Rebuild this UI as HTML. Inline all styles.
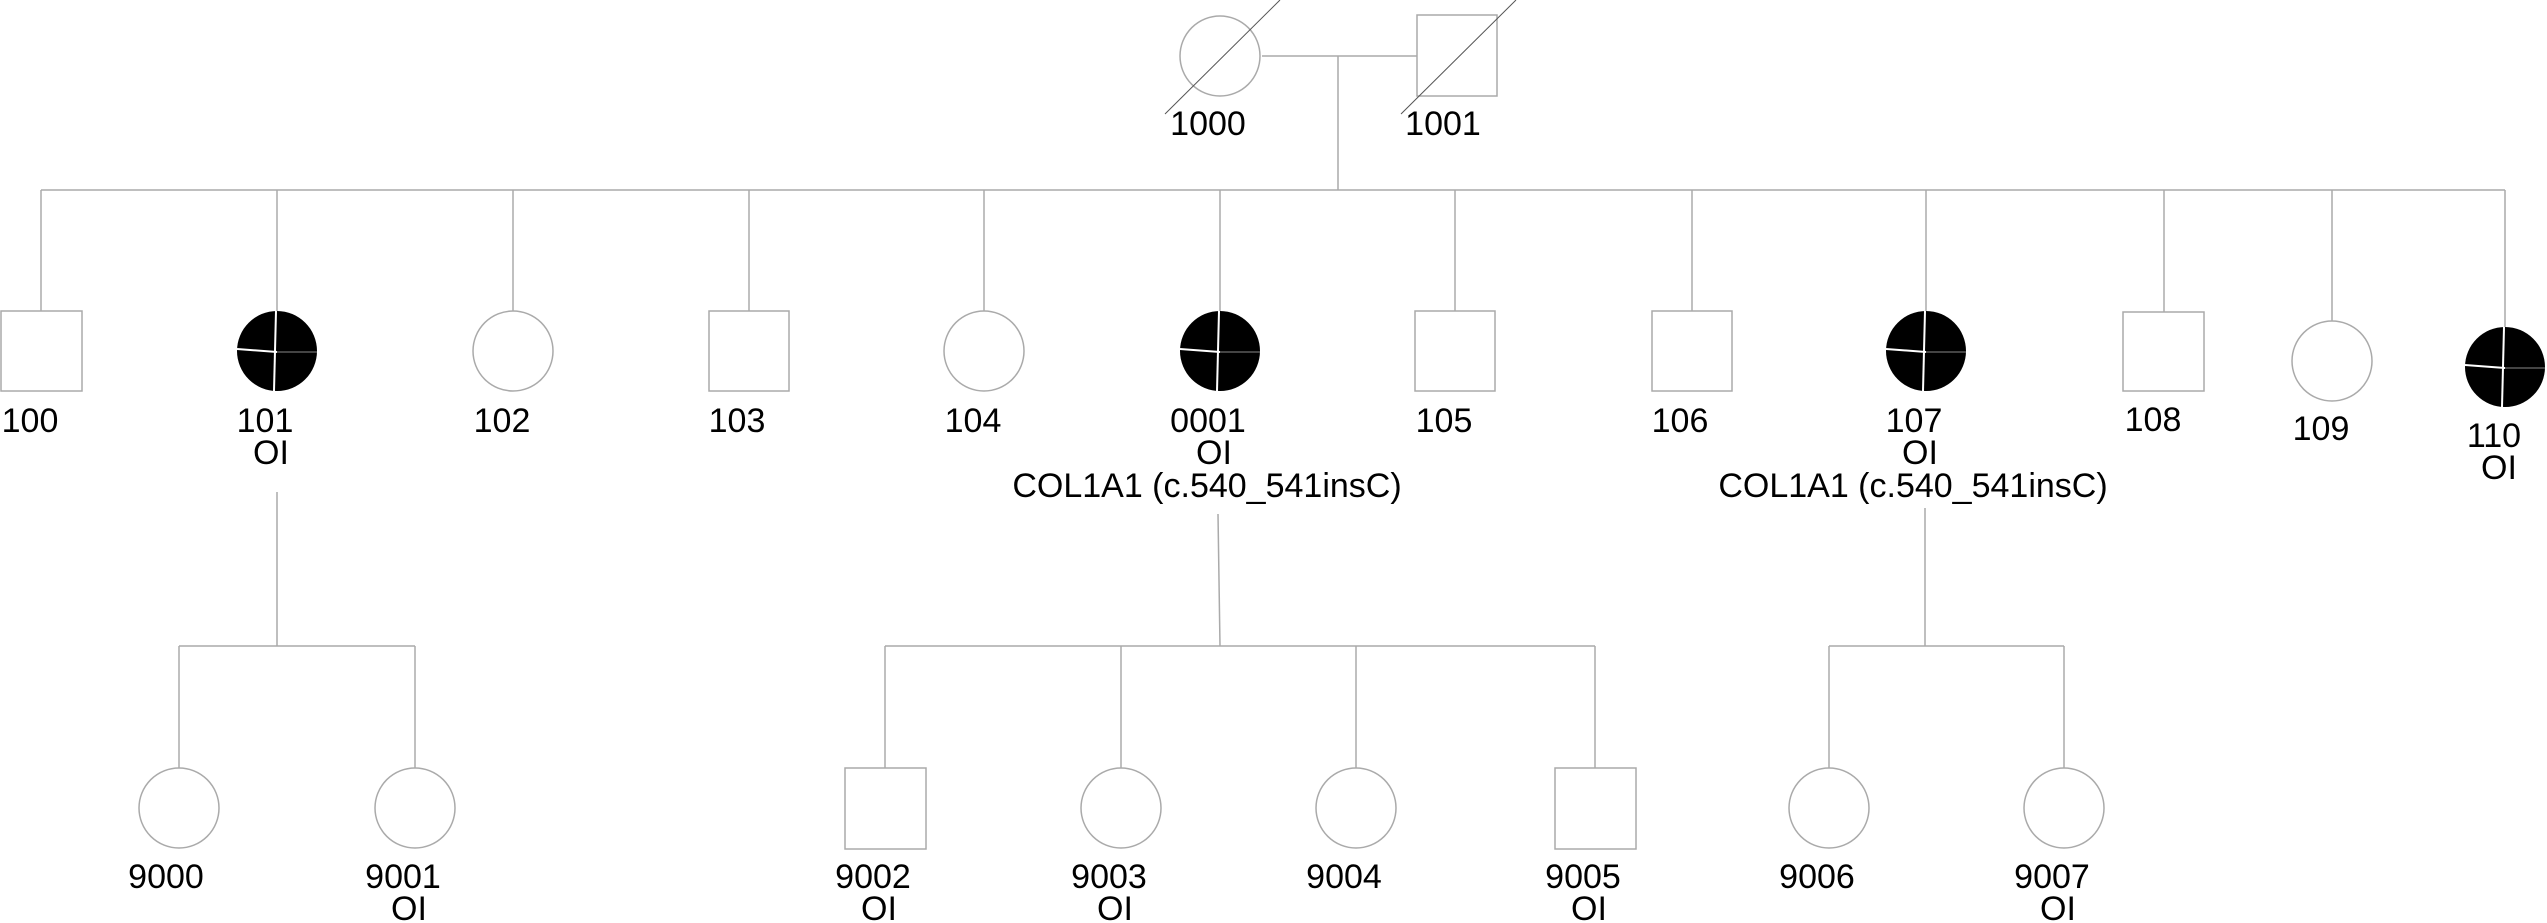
<!DOCTYPE html>
<html><head><meta charset="utf-8"><style>
html,body{margin:0;padding:0;background:#fff;}
svg{display:block;}
text{font-family:"Liberation Sans",Arial,sans-serif;font-size:34px;fill:#000;text-anchor:middle;}
</style></head><body>
<svg width="2547" height="923" viewBox="0 0 2547 923" xmlns="http://www.w3.org/2000/svg">
<defs>
<g id="aff">
<circle cx="0" cy="0" r="40" fill="#000"/>
<line x1="-1" y1="-40" x2="-3" y2="40" stroke="#fff" stroke-width="2"/>
<line x1="-40" y1="-2" x2="0" y2="1" stroke="#fff" stroke-width="2"/>
<line x1="0" y1="1" x2="40" y2="1" stroke="#888" stroke-width="1"/>
</g>
</defs>
<g stroke="#aaa" stroke-width="1.5" fill="none">
<line x1="1262" y1="56" x2="1417" y2="56"/>
<line x1="1338" y1="56" x2="1338" y2="190"/>
<line x1="41" y1="190" x2="2505" y2="190"/>
<line x1="41" y1="190" x2="41" y2="311"/>
<line x1="277" y1="190" x2="277" y2="311"/>
<line x1="513" y1="190" x2="513" y2="311"/>
<line x1="749" y1="190" x2="749" y2="311"/>
<line x1="984" y1="190" x2="984" y2="311"/>
<line x1="1220" y1="190" x2="1220" y2="311"/>
<line x1="1455" y1="190" x2="1455" y2="311"/>
<line x1="1692" y1="190" x2="1692" y2="311"/>
<line x1="1926" y1="190" x2="1926" y2="311"/>
<line x1="2164" y1="190" x2="2164" y2="312"/>
<line x1="2332" y1="190" x2="2332" y2="321"/>
<line x1="2505" y1="190" x2="2505" y2="327"/>
<line x1="277" y1="492" x2="277" y2="646"/>
<line x1="179" y1="646" x2="415" y2="646"/>
<line x1="179" y1="646" x2="179" y2="768"/>
<line x1="415" y1="646" x2="415" y2="768"/>
<line x1="1218" y1="514" x2="1220" y2="646"/>
<line x1="885" y1="646" x2="1595" y2="646"/>
<line x1="885" y1="646" x2="885" y2="768"/>
<line x1="1121" y1="646" x2="1121" y2="768"/>
<line x1="1356" y1="646" x2="1356" y2="768"/>
<line x1="1595" y1="646" x2="1595" y2="768"/>
<line x1="1925" y1="508" x2="1925" y2="646"/>
<line x1="1829" y1="646" x2="2064" y2="646"/>
<line x1="1829" y1="646" x2="1829" y2="768"/>
<line x1="2064" y1="646" x2="2064" y2="768"/>
<circle cx="1220" cy="56" r="40"/>
<rect x="1417" y="15" width="80" height="81"/>
<rect x="1" y="311" width="81" height="80"/>
<circle cx="513" cy="351" r="40"/>
<rect x="709" y="311" width="80" height="80"/>
<circle cx="984" cy="351" r="40"/>
<rect x="1415" y="311" width="80" height="80"/>
<rect x="1652" y="311" width="80" height="80"/>
<rect x="2123" y="312" width="81" height="79"/>
<circle cx="2332" cy="361" r="40"/>
<circle cx="179" cy="808" r="40"/>
<circle cx="415" cy="808" r="40"/>
<rect x="845" y="768" width="81" height="81"/>
<circle cx="1121" cy="808" r="40"/>
<circle cx="1356" cy="808" r="40"/>
<rect x="1555" y="768" width="81" height="81"/>
<circle cx="1829" cy="808" r="40"/>
<circle cx="2064" cy="808" r="40"/>
</g>
<g stroke="#555" stroke-width="1">
<line x1="1165" y1="114" x2="1280" y2="0"/>
<line x1="1401" y1="114" x2="1516" y2="0"/>
</g>
<use href="#aff" x="277" y="351"/>
<use href="#aff" x="1220" y="351"/>
<use href="#aff" x="1926" y="351"/>
<use href="#aff" x="2505" y="367"/>
<text x="1208" y="135">1000</text>
<text x="1443" y="135">1001</text>
<text x="30" y="432">100</text>
<text x="265" y="432">101</text><text x="271" y="464">OI</text>
<text x="502" y="432">102</text>
<text x="737" y="432">103</text>
<text x="973" y="432">104</text>
<text x="1208" y="432">0001</text><text x="1214" y="464">OI</text>
<text x="1207" y="497">COL1A1 (c.540_541insC)</text>
<text x="1444" y="432">105</text>
<text x="1680" y="432">106</text>
<text x="1914" y="432">107</text><text x="1920" y="464">OI</text>
<text x="1913" y="497">COL1A1 (c.540_541insC)</text>
<text x="2153" y="431">108</text>
<text x="2321" y="440">109</text>
<text x="2494" y="447">110</text><text x="2499" y="479">OI</text>
<text x="166" y="888">9000</text>
<text x="403" y="888">9001</text><text x="409" y="920">OI</text>
<text x="873" y="888">9002</text><text x="879" y="920">OI</text>
<text x="1109" y="888">9003</text><text x="1115" y="920">OI</text>
<text x="1344" y="888">9004</text>
<text x="1583" y="888">9005</text><text x="1589" y="920">OI</text>
<text x="1817" y="888">9006</text>
<text x="2052" y="888">9007</text><text x="2058" y="920">OI</text>
</svg>
</body></html>
